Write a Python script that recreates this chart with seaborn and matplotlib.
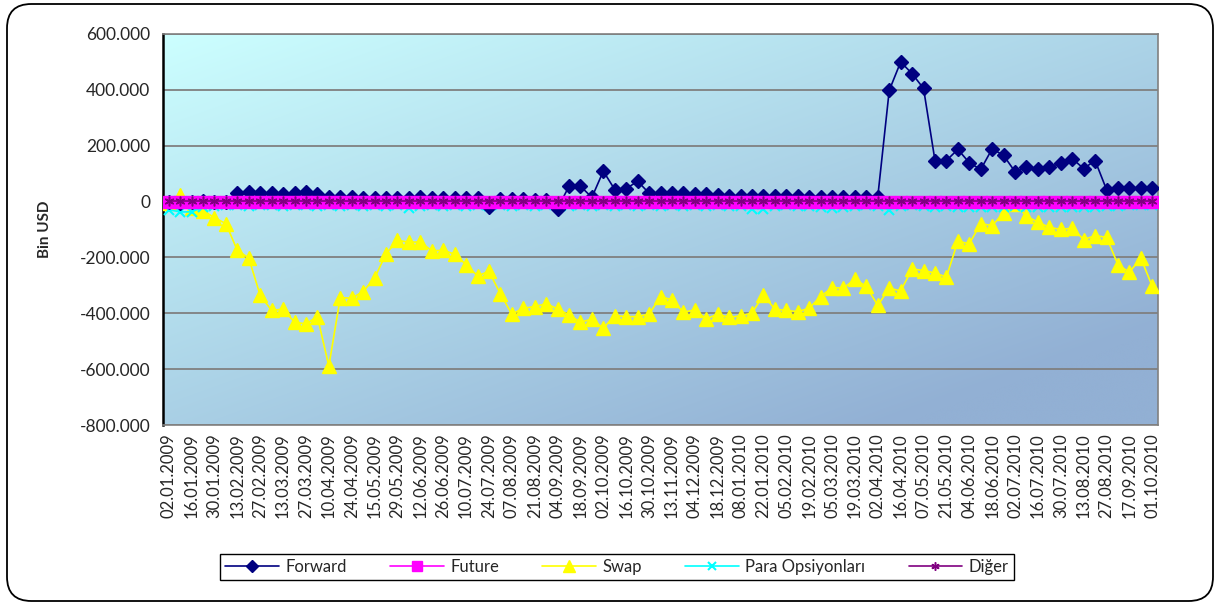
import matplotlib
matplotlib.use("Agg")
import matplotlib.pyplot as plt
from matplotlib.patches import FancyBboxPatch
import seaborn as sns
import numpy as np
import pandas as pd

# tarihler (haftalık, her ikinci etiket gösteriliyor)
dates = [
    "02.01.2009", "09.01.2009", "16.01.2009", "23.01.2009", "30.01.2009", "06.02.2009",
    "13.02.2009", "20.02.2009", "27.02.2009", "06.03.2009", "13.03.2009", "20.03.2009",
    "27.03.2009", "03.04.2009", "10.04.2009", "17.04.2009", "24.04.2009", "08.05.2009",
    "15.05.2009", "22.05.2009", "29.05.2009", "05.06.2009", "12.06.2009", "19.06.2009",
    "26.06.2009", "03.07.2009", "10.07.2009", "17.07.2009", "24.07.2009", "31.07.2009",
    "07.08.2009", "14.08.2009", "21.08.2009", "28.08.2009", "04.09.2009", "11.09.2009",
    "18.09.2009", "25.09.2009", "02.10.2009", "09.10.2009", "16.10.2009", "23.10.2009",
    "30.10.2009", "06.11.2009", "13.11.2009", "20.11.2009", "04.12.2009", "11.12.2009",
    "18.12.2009", "25.12.2009", "08.01.2010", "15.01.2010", "22.01.2010", "29.01.2010",
    "05.02.2010", "12.02.2010", "19.02.2010", "26.02.2010", "05.03.2010", "12.03.2010",
    "19.03.2010", "26.03.2010", "02.04.2010", "09.04.2010", "16.04.2010", "23.04.2010",
    "07.05.2010", "14.05.2010", "21.05.2010", "28.05.2010", "04.06.2010", "11.06.2010",
    "18.06.2010", "25.06.2010", "02.07.2010", "09.07.2010", "16.07.2010", "23.07.2010",
    "30.07.2010", "06.08.2010", "13.08.2010", "20.08.2010", "27.08.2010", "03.09.2010",
    "17.09.2010", "24.09.2010", "01.10.2010",
]

# değerler bin USD / 1000
forward = [
    0, -5, 0, 2, 0, 0, 30, 33, 30, 30, 28, 30, 33, 28,
    18, 15, 15, 12, 12, 12, 12, 12, 18, 12, 12, 12, 12, 12,
    -20, 10, 8, 8, 5, 5, -25,
    55, 55, 15, 109, 43, 46, 73, 30,
    32, 30, 30, 28, 28, 25,
    20, 20, 20, 20, 20, 20, 20, 18, 18, 18, 18, 18, 18, 18,
    398, 500, 458, 405, 147, 147, 187, 139, 115, 189, 165, 107,
    123, 117, 123, 139, 154, 118, 147, 43, 49, 49, 49, 49,
]
future = [
    0, 0, 0, 0, 0, 0, 0, 0, 0, 0, 0, 0, 0, 0, 0, 0, 0, 0, 0, 0,
    0, 0, 0, 0, 0, 0, 0, 0, 0, 0, 0, 0, 0, 0, 0, 0, 0, 0, 0, 0,
    0, 0, 0, 0, 0, 0, 0, 0, 0, 0, 0, 0, 0, 0, 0, 0, 0, 0, 0, 0,
    0, 0, 0, 0, 0, 0, 0, 0, 0, 0, 0, 0, 0, 0, 0, 0, 0, 0, 0, 0,
    0, 0, 0, 0, 0, 0, 0,
]
swap = [
    -5, 25, -23, -32, -58, -79, -175, -202, -336, -390, -385, -432, -438, -412,
    -589, -344, -346, -322, -274, -187, -139, -145, -145, -176, -175, -188, -226, -266,
    -250, -330, -403, -382, -376, -366, -384, -406, -432, -421, -454, -408, -412, -412,
    -403, -340, -352, -396, -388, -420, -403, -415, -409, -399, -335, -385, -390, -394,
    -382, -340, -308, -310, -278, -304, -372, -310, -320, -241, -247, -256, -270, -142,
    -151, -79, -86, -41, -8, -52, -74, -92, -100, -95, -136, -122, -128, -226,
    -253, -202, -304,
]
para_ops = [
    -29, -37, -37, -20, -15, -14, -14, -16, -14, -14, -16, -14, -14, -16,
    -14, -16, -14, -16, -14, -16, -14, -22, -16, -14, -16, -14, -16, -14,
    -16, -14, -16, -14, -16, -14, -16, -16, -14, -16, -14, -16, -14, -16,
    -14, -16, -14, -16, -14, -16, -14, -16, -16, -25, -25, -16, -14, -16,
    -16, -20, -22, -20, -16, -14, -16, -30, -16, -14, -16, -18, -16, -20,
    -20, -18, -20, -18, -16, -18, -20, -18, -18, -20, -18, -18, -16, -16,
    -14, -14, -14,
]
diger = [
    2, 2, 2, 2, 2, 2, 2, 2, 2, 2, 2, 2, 2, 2, 2, 2, 2, 2, 2, 2,
    2, 2, 2, 2, 2, 2, 2, 2, 2, 2, 2, 2, 2, 2, 2, 2, 2, 2, 2, 2,
    2, 2, 2, 2, 2, 2, 2, 2, 2, 2, 2, 2, 2, 2, 2, 2, 2, 2, 2, 2,
    2, 2, 2, 2, 2, 2, 2, 2, 2, 2, 2, 2, 2, 2, 2, 2, 2, 2, 2, 2,
    2, 2, 2, 2, 2, 2, 2,
]

series_names = ["Forward", "Future", "Swap", "Para Opsiyonları", "Diğer"]
series_values = [forward, future, swap, para_ops, diger]

styles = {
    "Forward": dict(color="#000080", marker="D", markersize=7, z=3.3),
    "Future": dict(color="#FF00FF", marker="s", markersize=8.5, z=3.5),
    "Swap": dict(color="#FFFF00", marker="^", markersize=9.5, z=3.0),
    "Para Opsiyonları": dict(color="#00FFFF", marker="x", markersize=7, markeredgewidth=1.5, z=3.2),
    "Diğer": dict(color="#800080", marker=(6, 2, 0), markersize=7, markeredgewidth=1.1, z=3.6),
}

rows = []
for name, vals in zip(series_names, series_values):
    for i, v in enumerate(vals):
        rows.append({"idx": i, "date": dates[i], "seri": name, "deger": v * 1000})
df = pd.DataFrame(rows)

sns.set_style("white")
plt.rcParams["font.family"] = ["Lato", "DejaVu Sans"]

fig = plt.figure(figsize=(12.16, 6.04), dpi=100)
ax = fig.add_axes([163 / 1216, 1 - 425 / 604, (1158 - 163) / 1216, (425 - 34) / 604])

n = len(dates)
ymin, ymax = -800000, 600000
ax.set_xlim(-0.5, n - 0.5)
ax.set_ylim(ymin, ymax)

# degrade arka plan
c1 = np.array([204, 255, 255]) / 255
c2 = np.array([146, 176, 212]) / 255
gx, gy = np.meshgrid(np.linspace(0, 1, 200), np.linspace(0, 1, 200))
t = np.clip(0.55 * gx + 0.6 * gy, 0, 1)[..., None]
grad = c1 * (1 - t) + c2 * t
ax.imshow(grad, extent=(-0.5, n - 0.5, ymin, ymax), aspect="auto", origin="upper",
          zorder=0, interpolation="bicubic")

for name in series_names:
    sub = df[df["seri"] == name]
    st = styles[name]
    sns.lineplot(data=sub, x="idx", y="deger", ax=ax, label=name, color=st["color"],
                 marker=st["marker"], markersize=st["markersize"],
                 markeredgecolor=st["color"], markerfacecolor=st["color"],
                 markeredgewidth=st.get("markeredgewidth", 1), linewidth=1.2,
                 legend=False, zorder=st["z"])

ax.set_yticks(np.arange(ymin, ymax + 1, 200000))
ax.set_yticklabels([f"{v:,.0f}".replace(",", ".") for v in np.arange(ymin, ymax + 1, 200000)],
                   fontsize=12.5)
ax.set_xticks(range(0, n, 2))
ax.set_xticklabels(dates[::2], rotation=90, fontsize=12)
ax.tick_params(axis="x", length=0, pad=6)
ax.tick_params(axis="y", length=5, width=1.2, color="black", direction="out", pad=4)
ax.yaxis.grid(True, color="#808080", linewidth=1.3)
ax.set_axisbelow(True)
ax.set_xlabel("")
ax.set_ylabel("Bin USD", fontsize=11, fontweight="bold", labelpad=20)

for side in ["top", "right", "bottom"]:
    ax.spines[side].set_color("#808080")
    ax.spines[side].set_linewidth(1.2)
ax.spines["left"].set_color("black")
ax.spines["left"].set_linewidth(1.8)

handles, labels = ax.get_legend_handles_labels()
fig.legend(handles, labels, loc="center", bbox_to_anchor=(617 / 1216, 1 - 567 / 604),
           ncol=5, fontsize=12, frameon=True, fancybox=False, edgecolor="black",
           framealpha=1, handlelength=3.2, handletextpad=0.4, columnspacing=2.6,
           borderpad=0.3, markerscale=0.85)

# dış çerçeve
box = FancyBboxPatch((7 / 1216, 3 / 604), 1206 / 1216, 597 / 604,
                     boxstyle="round,pad=0,rounding_size=0.02", transform=fig.transFigure,
                     facecolor="none", edgecolor="black", linewidth=1.3, mutation_aspect=2)
fig.patches.append(box)

fig.savefig("out.png", dpi=100)
plt.close()
